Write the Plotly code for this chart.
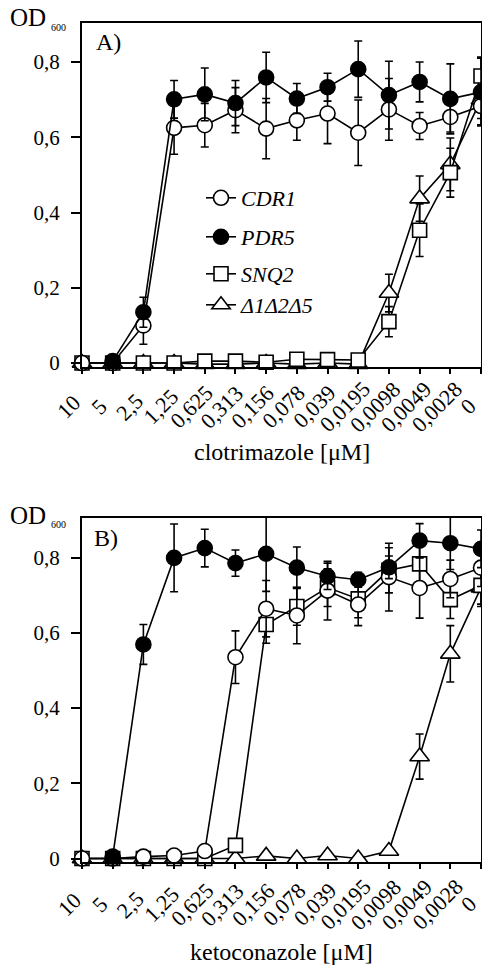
import plotly.graph_objects as go

conc = ["10", "5", "2,5", "1,25", "0,625", "0,313", "0,156", "0,078", "0,039",
        "0,0195", "0,0098", "0,0049", "0,0028", "0"]

# Panel A: clotrimazole
a_cdr1 = [0.0, 0.0, 0.10, 0.625, 0.632, 0.672, 0.623, 0.645, 0.663, 0.612, 0.674, 0.630, 0.654, 0.683]
a_cdr1_err = [0.0, 0.0, 0.05, 0.07, 0.058, 0.06, 0.08, 0.053, 0.08, 0.087, 0.082, 0.036, 0.04, 0.05]
a_pdr5 = [None, 0.005, 0.135, 0.701, 0.714, 0.691, 0.759, 0.703, 0.733, 0.781, 0.712, 0.747, 0.702, 0.72]
a_pdr5_err = [0.0, 0.0, 0.04, 0.05, 0.07, 0.06, 0.067, 0.04, 0.037, 0.075, 0.09, 0.053, 0.093, 0.09]
a_snq2 = [0.0, 0.0, 0.0, 0.0, 0.005, 0.005, 0.002, 0.01, 0.009, 0.008, 0.11, 0.353, 0.506, 0.763]
a_snq2_err = [0, 0, 0, 0, 0, 0, 0, 0.005, 0.005, 0, 0.04, 0.07, 0.065, 0.05]
a_del = [0.0, 0.0, 0.0, 0.0, -0.003, -0.003, 0.0, -0.003, 0.0, -0.003, 0.186, 0.437, 0.528, 0.70]
a_del_err = [0, 0, 0, 0, 0, 0, 0, 0, 0, 0, 0.05, 0.06, 0.07, 0.05]

# Panel B: ketoconazole
b_cdr1 = [0.0, 0.0, 0.005, 0.008, 0.02, 0.535, 0.664, 0.646, 0.712, 0.675, 0.748, 0.719, 0.743, 0.773]
b_cdr1_err = [0, 0, 0, 0, 0, 0.07, 0.075, 0.075, 0.078, 0.056, 0.09, 0.08, 0.05, 0.05]
b_pdr5 = [None, 0.005, 0.569, 0.799, 0.825, 0.785, 0.81, 0.773, 0.75, 0.741, 0.774, 0.845, 0.838, 0.823]
b_pdr5_err = [0, 0, 0.053, 0.09, 0.05, 0.035, 0.1, 0.055, 0.035, 0.02, 0.03, 0.045, 0.07, 0.05]
b_snq2 = [0.0, 0.0, 0.0, 0.0, 0.0, 0.035, 0.622, 0.67, 0.72, 0.69, 0.766, 0.783, 0.688, 0.726]
b_snq2_err = [0, 0, 0, 0, 0, 0, 0.05, 0.05, 0.05, 0.05, 0.06, 0.06, 0.05, 0.05]
b_del = [0.0, 0.0, 0.0, 0.0, 0.0, 0.0, 0.007, 0.0, 0.008, 0.0, 0.02, 0.271, 0.544, 0.72]
b_del_err = [0, 0, 0, 0, 0, 0, 0, 0, 0, 0, 0, 0.06, 0.075, 0.05]

DEL = "\u03941\u03942\u03945"
y_ticks = [0, 0.2, 0.4, 0.6, 0.8]
y_ticktext = ["0", "0,2", "0,4", "0,6", "0,8"]

FONT = "Liberation Serif"
W, H = 482, 968

styles = {
    "CDR1": dict(symbol="circle", size=15, color="white"),
    "PDR5": dict(symbol="circle", size=15, color="black"),
    "SNQ2": dict(symbol="square", size=14, color="white"),
    DEL: dict(symbol="triangle-up", size=17, color="white"),
}
legend_y_px = {"CDR1": 198, "PDR5": 237, "SNQ2": 274, DEL: 305}
legend_ids = {"CDR1": "legend", "PDR5": "legend2", "SNQ2": "legend3", DEL: "legend4"}

fig = go.Figure()

panels = [
    ("x", "y", {"SNQ2": (a_snq2, a_snq2_err), DEL: (a_del, a_del_err),
                "CDR1": (a_cdr1, a_cdr1_err), "PDR5": (a_pdr5, a_pdr5_err)}, True),
    ("x2", "y2", {"SNQ2": (b_snq2, b_snq2_err), DEL: (b_del, b_del_err),
                  "CDR1": (b_cdr1, b_cdr1_err), "PDR5": (b_pdr5, b_pdr5_err)}, False),
]

for xa, ya, data, show in panels:
    for name in [DEL, "SNQ2", "CDR1", "PDR5"]:
        vals, errs = data[name]
        st = styles[name]
        fig.add_trace(go.Scatter(
            x=conc, y=vals, xaxis=xa, yaxis=ya, name=name,
            mode="lines+markers", cliponaxis=False, connectgaps=False,
            line=dict(color="black", width=1.6),
            marker=dict(symbol=st["symbol"], size=st["size"], color=st["color"],
                        line=dict(color="black", width=1.6)),
            error_y=dict(type="data", array=errs, visible=True, color="black",
                         thickness=1.6, width=4),
            showlegend=show, legend=legend_ids[name],
        ))

xdom = [82 / W, 481 / W]
axis_common = dict(showgrid=False, zeroline=False, showline=True, linecolor="black",
                   linewidth=2, mirror=True, ticks="outside", tickcolor="black",
                   tickwidth=1.5, automargin=False)
xaxis_cfg = dict(axis_common, type="category", range=[0, 13], domain=xdom,
                 ticklen=5, showticklabels=False)
yaxis_cfg = dict(axis_common, range=[-0.01, 0.905], tickvals=y_ticks, ticktext=y_ticktext,
                 ticklen=9, ticklabelstandoff=7,
                 tickfont=dict(family=FONT, size=21, color="black"))

layout = dict(
    width=W, height=H, margin=dict(l=0, r=0, t=0, b=0, autoexpand=False),
    paper_bgcolor="white", plot_bgcolor="white",
    font=dict(family=FONT, color="black"),
    xaxis=dict(xaxis_cfg, anchor="y"),
    yaxis=dict(yaxis_cfg, anchor="x", domain=[1 - 366.8 / H, 1 - 22.5 / H]),
    xaxis2=dict(xaxis_cfg, anchor="y2"),
    yaxis2=dict(yaxis_cfg, anchor="x2", domain=[1 - 862.3 / H, 1 - 518 / H]),
)
for name, lid in legend_ids.items():
    layout[lid] = dict(x=201 / W, y=1 - legend_y_px[name] / H, xanchor="left", yanchor="middle",
                       bgcolor="rgba(0,0,0,0)", borderwidth=0,
                       font=dict(family=FONT, size=22, style="italic", color="black"))
fig.update_layout(**layout)

# rotated category labels (centre-anchored like the original) and axis titles
for xr, label_y_px, title, title_y_px in [("x", 407, "clotrimazole [\u03bcM]", 452),
                                          ("x2", 904, "ketoconazole [\u03bcM]", 952)]:
    for i, c in enumerate(conc):
        fig.add_annotation(text=c, x=i, xref=xr, y=1 - label_y_px / H, yref="paper",
                           xanchor="center", yanchor="middle", xshift=-13, textangle=-45,
                           showarrow=False, font=dict(family=FONT, size=22, color="black"))
    fig.add_annotation(text=title, x=(xdom[0] + xdom[1]) / 2, xref="paper",
                       y=1 - title_y_px / H, yref="paper", xanchor="center", yanchor="middle",
                       showarrow=False, font=dict(family=FONT, size=24, color="black"))

annos = [
    dict(text="OD", x=8 / W, y=1 - 18 / H, size=25),
    dict(text="600", x=49 / W, y=1 - 27 / H, size=10),
    dict(text="A)", x=94 / W, y=1 - 42 / H, size=24),
    dict(text="OD", x=8 / W, y=1 - 515 / H, size=25),
    dict(text="600", x=49 / W, y=1 - 524 / H, size=10),
    dict(text="B)", x=92 / W, y=1 - 538 / H, size=24),
]
for a in annos:
    fig.add_annotation(text=a["text"], x=a["x"], y=a["y"], xref="paper", yref="paper",
                       xanchor="left", yanchor="middle", showarrow=False,
                       font=dict(family=FONT, size=a["size"], color="black"))

fig.write_html("out.html", config={"displayModeBar": False},
               post_script="document.body.style.margin='0';document.body.style.overflow='hidden';")
